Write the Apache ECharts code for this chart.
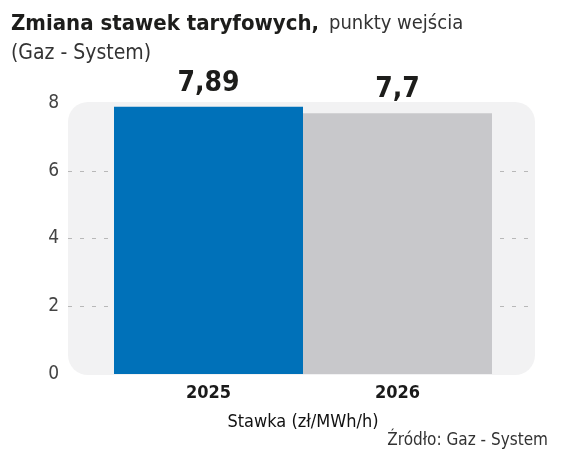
<!DOCTYPE html>
<html><head><meta charset="utf-8">
<script src="https://cdn.jsdelivr.net/npm/echarts@6/dist/echarts.min.js"></script>
<style>html,body{margin:0;padding:0;background:#fff}#c{width:564px;height:451px}</style>
</head><body><div id="c"></div>
<script>
const categories = ['2025', '2026'];
const values = [7.89, 7.7];
const valueLabels = ['7,89', '7,7'];
const barColors = ['#0071b9', '#c8c8cb'];
const yTicks = [0, 2, 4, 6, 8];
const gridLineValues = [2, 4, 6];

const NARROW = "'DejaVu Sans Condensed', 'Roboto', sans-serif";
const chart = echarts.init(document.getElementById('c'), null, {renderer: 'canvas'});
chart.setOption({
  animation: false,
  backgroundColor: '#fff',
  title: [{
    left: 6, top: 4,
    text: '{b|Zmiana stawek taryfowych,}  {l|punkty wejścia}\n{g|(Gaz - System)}',
    textStyle: {
      rich: {
        b: {fontFamily: NARROW, fontWeight: 'bold', fontSize: 22, color: '#1d1d1b', lineHeight: 30},
        l: {fontFamily: NARROW, fontWeight: 'normal', fontSize: 20, color: '#333', lineHeight: 30},
        g: {fontFamily: NARROW, fontWeight: 'normal', fontSize: 21, color: '#333', lineHeight: 30}
      }
    }
  }, {
    right: 11, top: 427,
    text: 'Źródło: Gaz - System',
    textStyle: {fontFamily: NARROW, fontWeight: 'normal', fontSize: 17, color: '#333'}
  }],
  graphic: [{
    type: 'rect', z: -10, silent: true,
    shape: {x: 68, y: 102, width: 467, height: 273, r: 20},
    style: {fill: '#f2f2f3'}
  }],
  grid: [
    {left: 114, right: 72, top: 103, bottom: 77},
    {left: 68, right: 29, top: 103, bottom: 77}
  ],
  xAxis: [{
    gridIndex: 0, type: 'category', data: categories,
    axisLine: {show: false}, axisTick: {show: false},
    axisLabel: {fontFamily: NARROW, fontWeight: 'bold', fontSize: 18, color: '#1a1a1a', margin: 10},
    name: 'Stawka (zł/MWh/h)', nameLocation: 'middle', nameGap: 39,
    nameTextStyle: {fontFamily: NARROW, fontSize: 18, color: '#111'}
  }, {
    gridIndex: 1, type: 'category', data: categories, show: false
  }],
  yAxis: [{
    gridIndex: 0, type: 'value', min: 0, max: 8, interval: 2, show: false
  }, {
    gridIndex: 1, type: 'value', min: 0, max: 8, interval: 2,
    axisLine: {show: false}, axisTick: {show: false},
    axisLabel: {fontFamily: NARROW, fontSize: 19, color: '#444', margin: 9,
      formatter: v => yTicks.includes(v) ? String(v) : ''},
    splitLine: {show: false}
  }],
  series: [{
    type: 'line', xAxisIndex: 1, yAxisIndex: 1, z: 1, data: [], silent: true,
    markLine: {
      silent: true, symbol: 'none', label: {show: false},
      lineStyle: {color: '#b8b8b8', type: [4, 8], width: 1},
      data: gridLineValues.map(v => ({yAxis: v}))
    }
  }, {
    type: 'bar', xAxisIndex: 0, yAxisIndex: 0, barWidth: '100%', z: 5,
    data: values.map((v, i) => ({value: v, itemStyle: {color: barColors[i]}})),
    label: {show: true, position: 'top', distance: 9,
      formatter: p => valueLabels[p.dataIndex],
      fontFamily: NARROW, fontWeight: 'bold', fontSize: 28, color: '#1d1d1b'}
  }]
});
</script></body></html>
